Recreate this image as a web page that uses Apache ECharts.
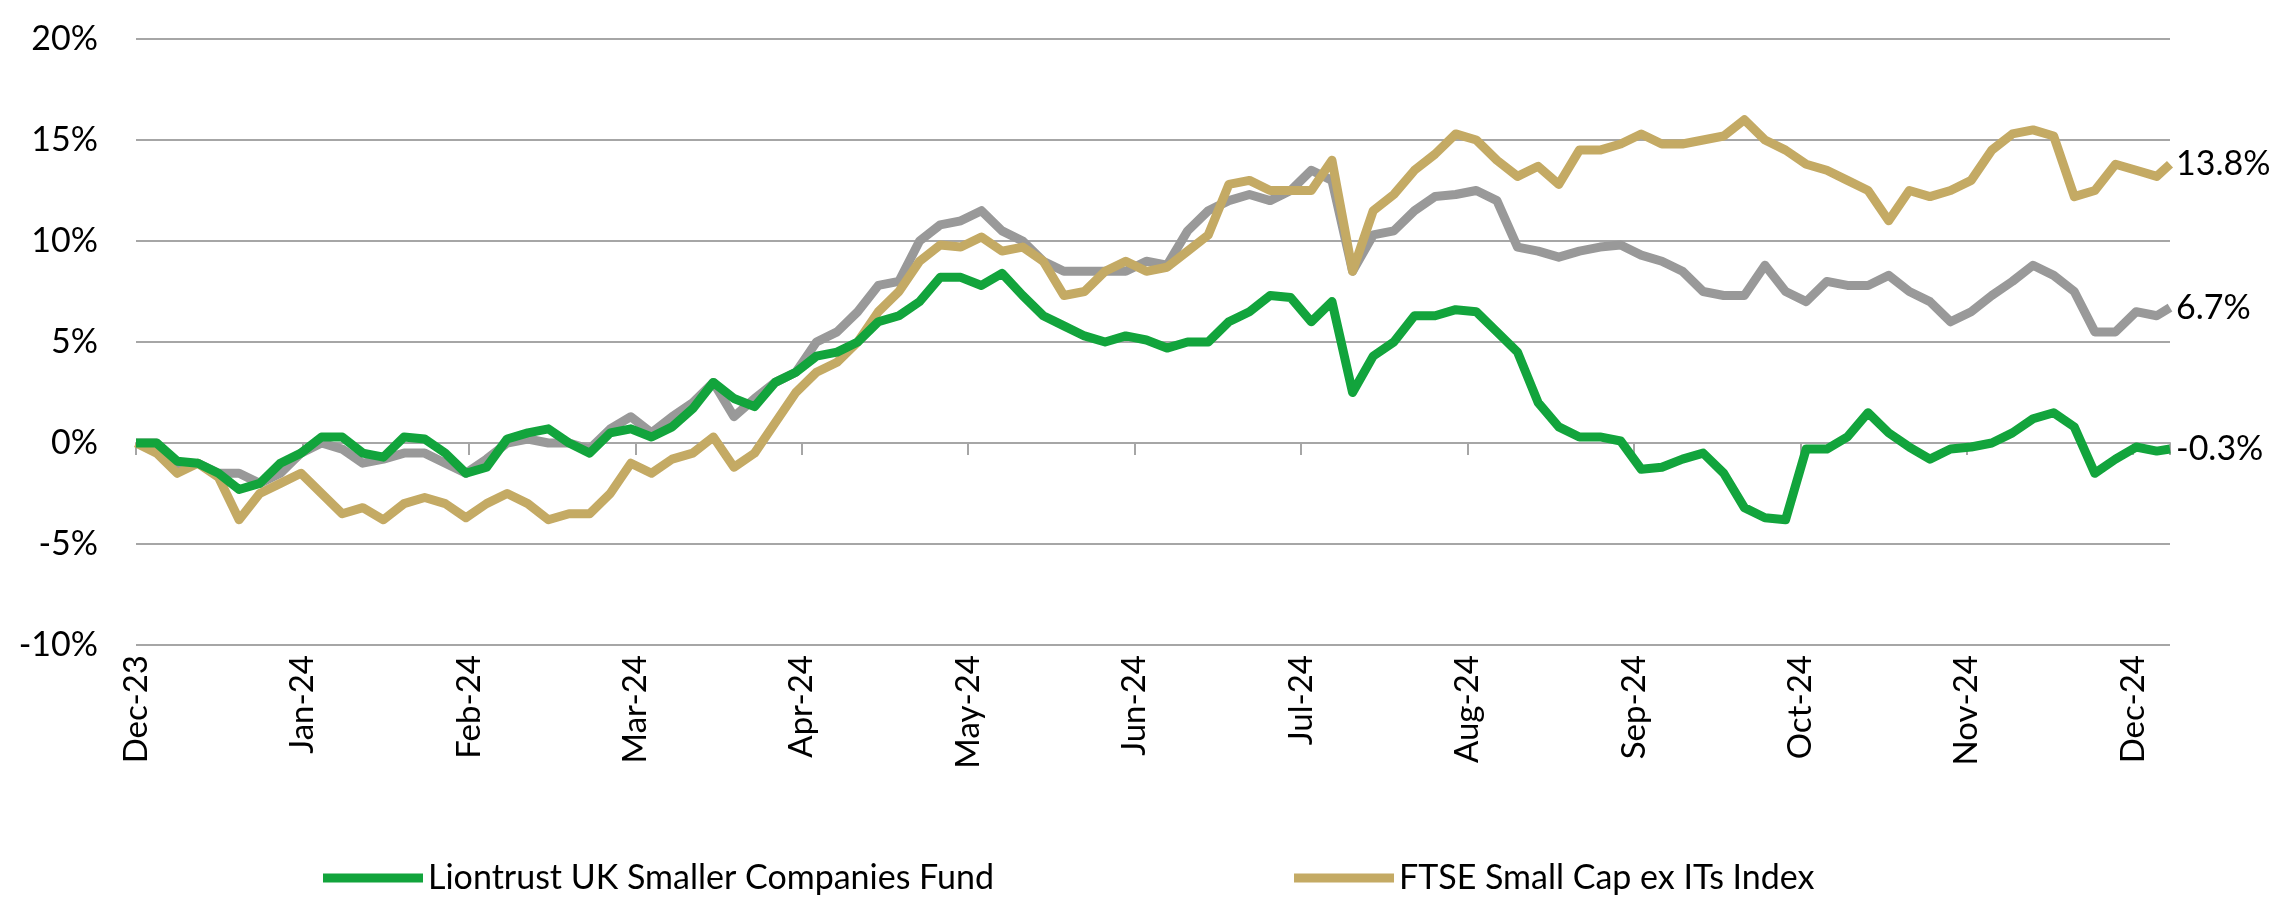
<!DOCTYPE html>
<html><head><meta charset="utf-8">
<script src="https://cdn.jsdelivr.net/npm/echarts@6/dist/echarts.min.js"></script>
<style>html,body{margin:0;padding:0;background:#fff}#c{width:2286px;height:910px}</style>
</head><body><div id="c"></div>
<script>
var monthLabels = ['Dec-23','Jan-24','Feb-24','Mar-24','Apr-24','May-24','Jun-24','Jul-24','Aug-24','Sep-24','Oct-24','Nov-24','Dec-24'];
var seriesNames = ['Liontrust UK Smaller Companies Fund','FTSE Small Cap ex ITs Index','Sector'];
var endLabels = ['-0.3%','13.8%','6.7%'];
var fund = [0,0,-0.9,-1.0,-1.5,-2.3,-2.0,-1.0,-0.5,0.3,0.3,-0.5,-0.7,0.3,0.2,-0.5,-1.5,-1.2,0.2,0.5,0.7,0,-0.5,0.5,0.7,0.3,0.8,1.7,3.0,2.2,1.8,3.0,3.5,4.3,4.5,5.0,6.0,6.3,7.0,8.2,8.2,7.8,8.4,7.3,6.3,5.8,5.3,5.0,5.3,5.1,4.7,5.0,5.0,6.0,6.5,7.3,7.2,6.0,7.0,2.5,4.3,5.0,6.3,6.3,6.6,6.5,5.5,4.5,2.0,0.8,0.3,0.3,0.1,-1.3,-1.2,-0.8,-0.5,-1.5,-3.2,-3.7,-3.8,-0.3,-0.3,0.3,1.5,0.5,-0.2,-0.8,-0.3,-0.2,0.0,0.5,1.2,1.5,0.8,-1.5,-0.8,-0.2,-0.4,-0.3];
var index = [0,-0.5,-1.5,-1.0,-1.7,-3.8,-2.5,-2.0,-1.5,-2.5,-3.5,-3.2,-3.8,-3.0,-2.7,-3.0,-3.7,-3.0,-2.5,-3.0,-3.8,-3.5,-3.5,-2.5,-1.0,-1.5,-0.8,-0.5,0.3,-1.2,-0.5,1.0,2.5,3.5,4.0,5.0,6.5,7.5,9.0,9.8,9.7,10.2,9.5,9.7,9.0,7.3,7.5,8.5,9.0,8.5,8.7,9.5,10.3,12.8,13.0,12.5,12.5,12.5,14.0,8.5,11.5,12.3,13.5,14.3,15.3,15.0,14.0,13.2,13.7,12.8,14.5,14.5,14.8,15.3,14.8,14.8,15.0,15.2,16.0,15.0,14.5,13.8,13.5,13.0,12.5,11.0,12.5,12.2,12.5,13.0,14.5,15.3,15.5,15.2,12.2,12.5,13.8,13.5,13.2,13.8];
var sector = [0,0,-1.3,-1.0,-1.5,-1.5,-2.0,-1.5,-0.5,0,-0.3,-1.0,-0.8,-0.5,-0.5,-1.0,-1.5,-0.8,0,0.2,0,0,-0.3,0.7,1.3,0.5,1.3,2.0,3.0,1.3,2.2,3.0,3.5,5.0,5.5,6.5,7.8,8.0,10.0,10.8,11.0,11.5,10.5,10.0,9.0,8.5,8.5,8.5,8.5,9.0,8.8,10.5,11.5,12.0,12.3,12.0,12.5,13.5,13.0,8.5,10.3,10.5,11.5,12.2,12.3,12.5,12.0,9.7,9.5,9.2,9.5,9.7,9.8,9.3,9.0,8.5,7.5,7.3,7.3,8.8,7.5,7.0,8.0,7.8,7.8,8.3,7.5,7.0,6.0,6.5,7.3,8.0,8.8,8.3,7.5,5.5,5.5,6.5,6.3,6.7];

var STEP = 14/113, LAST = 1381/113;
function pts(arr){return arr.map(function(v,i){return [i===arr.length-1?LAST:i*STEP, v];});}
var colors = ['#12a43c','#c4aa64','#999999'];
var font = 'Lato';
var chart = echarts.init(document.getElementById('c'));
function mk(name, data, color, lbl, z){
  return {name:name,type:'line',data:pts(data),symbol:'none',z:z,xAxisIndex:0,
    lineStyle:{width:9,color:color,join:'round'},itemStyle:{color:color},
    endLabel:{show:true,formatter:lbl,color:'#000',fontFamily:font,fontSize:34,distance:6}};
}
chart.setOption({
  animation:false,
  textStyle:{fontFamily:font},
  grid:{left:136,right:116,top:39,bottom:265},
  legend:{bottom:10,left:318,itemWidth:100,itemHeight:9,itemGap:300,icon:'rect',
    data:[seriesNames[0],seriesNames[1]],
    textStyle:{fontSize:34,color:'#000',fontFamily:font}},
  xAxis:[{type:'value',min:0,max:LAST,interval:1,
    axisLine:{onZero:true,lineStyle:{color:'#a6a6a6',width:2}},
    axisTick:{show:true,length:12,lineStyle:{color:'#a6a6a6',width:2}},
    axisLabel:{show:false},splitLine:{show:false}},
   {type:'value',min:0,max:LAST,interval:1,position:'bottom',
    axisLine:{show:false},axisTick:{show:false},splitLine:{show:false},
    axisLabel:{rotate:90,fontSize:33,color:'#000',fontFamily:font,margin:10,
      formatter:function(v){var i=Math.round(v);return Math.abs(v-i)<1e-6&&monthLabels[i]?monthLabels[i]:'';}}}],
  yAxis:{type:'value',min:-10,max:20,interval:5,
    axisLine:{show:false},axisTick:{show:false},
    splitLine:{lineStyle:{color:'#a6a6a6',width:2}},
    axisLabel:{formatter:'{value}%',fontSize:34,color:'#000',fontFamily:font,margin:38}},
  series:[mk(seriesNames[2],sector,colors[2],endLabels[2],2),
          mk(seriesNames[1],index,colors[1],endLabels[1],3),
          mk(seriesNames[0],fund,colors[0],endLabels[0],4)]
});
</script></body></html>
